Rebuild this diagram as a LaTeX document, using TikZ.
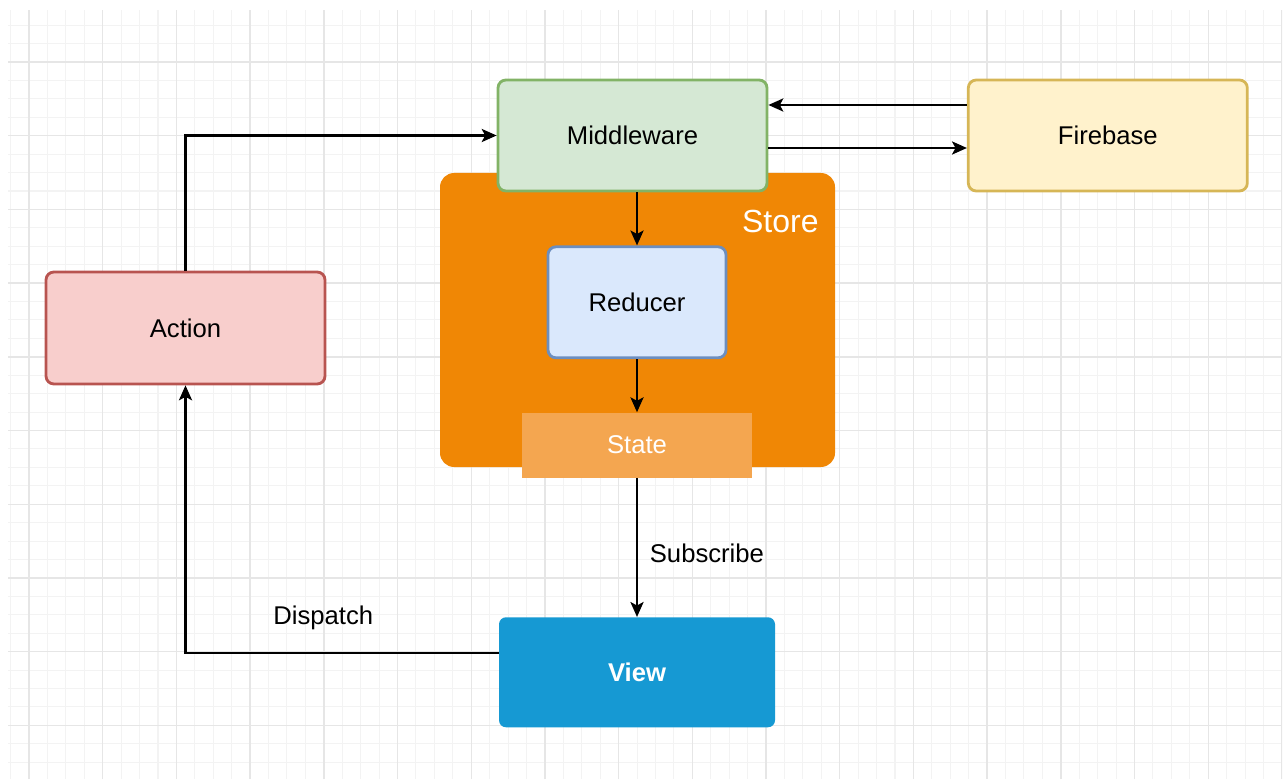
\documentclass[tikz,border=0pt]{standalone}
\usepackage{fontspec}
\setmainfont{Liberation Sans}
\usepackage{xcolor}
\usetikzlibrary{positioning,arrows.meta,calc}

\definecolor{mwfill}{HTML}{D5E8D4}
\definecolor{mwdraw}{HTML}{82B366}
\definecolor{fbfill}{HTML}{FFF2CC}
\definecolor{fbdraw}{HTML}{D6B656}
\definecolor{rdfill}{HTML}{DAE8FC}
\definecolor{rddraw}{HTML}{6C8EBF}
\definecolor{acfill}{HTML}{F8CECC}
\definecolor{acdraw}{HTML}{B85450}
\definecolor{storeorange}{HTML}{F08705}
\definecolor{statefill}{HTML}{F4A650}
\definecolor{viewblue}{HTML}{1699D3}
\definecolor{gridminor}{HTML}{F3F3F3}
\definecolor{gridmajor}{HTML}{E6E6E6}

\tikzset{
     block/.style={rectangle, draw, line width=1.6pt, rounded corners=4.5pt,
                   text centered, font=\fontsize{14.6}{17}\selectfont},
     arrow/.style={-{Stealth[length=8.5pt,width=7.5pt,inset=2pt]}}
     }

\begin{document}
\begin{tikzpicture}
\tikzstyle{line} = [draw, line width=1.15pt, arrow];
\tikzstyle{mw} = [block, draw=mwdraw, fill=mwfill, minimum width=5.38cm, minimum height=2.22cm];
\tikzstyle{fb} = [block, draw=fbdraw, fill=fbfill, minimum width=5.58cm, minimum height=2.22cm];
\tikzstyle{rd} = [block, draw=rddraw, fill=rdfill, minimum width=3.56cm, minimum height=2.22cm];
\tikzstyle{ac} = [block, draw=acdraw, fill=acfill, minimum width=5.58cm, minimum height=2.24cm];
\tikzstyle{st} = [rectangle, fill=statefill, text=white, minimum width=4.6cm, minimum height=1.3cm,
font=\fontsize{14.6}{17}\selectfont];
\tikzstyle{vw} = [rectangle, fill=viewblue, text=white, rounded corners=4pt, minimum width=5.52cm,
minimum height=2.2cm, font=\fontsize{14.6}{17}\selectfont\bfseries];
\tikzstyle{lbl} = [font=\fontsize{14.6}{17}\selectfont];

\useasboundingbox (0,0) rectangle (25.76,15.58);

% background grid
\begin{scope}
\clip (0.16,0) rectangle (25.64,15.38);
\foreach \i in {-2,...,70} \draw[gridminor, line width=0.6pt] ({0.58+0.3685*\i},0) -- ++(0,15.38);
\foreach \j in {-4,...,40} \draw[gridminor, line width=0.6pt] (0.16,{14.34-0.3685*\j}) -- ++(25.48,0);
\foreach \i in {0,...,17} \draw[gridmajor, line width=0.8pt] ({0.58+1.474*\i},0) -- ++(0,15.38);
\foreach \j in {-1,...,10} \draw[gridmajor, line width=0.8pt] (0.16,{14.34-1.474*\j}) -- ++(25.48,0);
\end{scope}

% store container
\node[rectangle, fill=storeorange, rounded corners=8pt, minimum width=7.9cm, minimum height=5.88cm] (Sto) at (12.75,9.18) {};
\node[text=white, font=\fontsize{18.2}{21}\selectfont] (StoL) at ($(Sto.north east)+(-1.1,-0.98)$) {Store};

\node [mw] (M) at (12.65,12.87) {Middleware};
\node [fb, right=3.97cm of M] (F) {Firebase};
\node [rd, below=1.06cm of M, xshift=0.09cm] (R) {Reducer};
\node [st, below=1.06cm of R] (S) {State};
\node [vw, below=2.78cm of S] (V) {View};
\node [ac] (A) at (3.71,9.02) {Action};

%Lines
\draw[line] (A.north) |- (M.west);
\draw[line] ([yshift=0.61cm]F.west) -- ([yshift=0.61cm]M.east);
\draw[line] ([yshift=-0.25cm]M.east) -- ([yshift=-0.25cm]F.west);
\draw[line] (R.north |- M.south) -- (R.north);
\draw[line] (R.south) -- (S.north);
\draw[line] (S.south) -- node[lbl, right=0.12cm, pos=0.54] {Subscribe} (V.north);
\draw[line] ([yshift=0.38cm]V.west) -| node[lbl, pos=0.28, yshift=0.7cm] {Dispatch} (A.south);
\end{tikzpicture}
\end{document}
